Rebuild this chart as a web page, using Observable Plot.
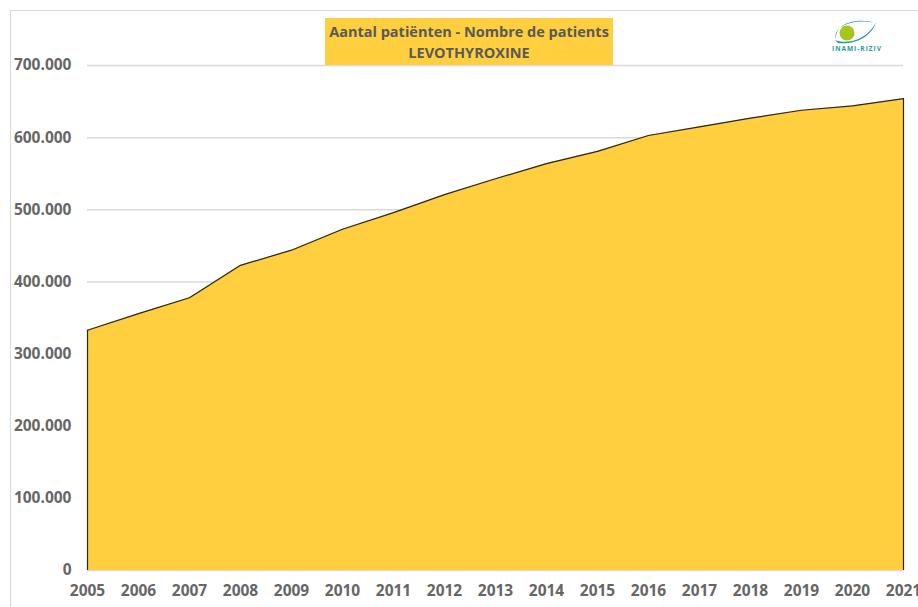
<!DOCTYPE html>
<html>
<head>
<meta charset="utf-8">
<script src="https://cdn.jsdelivr.net/npm/d3@7"></script>
<script src="https://cdn.jsdelivr.net/npm/@observablehq/plot@0.6"></script>
<style>
  html, body { margin: 0; padding: 0; background: #fff; }
  #wrap { position: relative; width: 918px; height: 607px; overflow: hidden; font-family: "Open Sans", sans-serif; }
  #frame { position: absolute; left: 10px; top: 10px; width: 920px; height: 620px; border: 1px solid #d9d9d9; box-sizing: border-box; }
  #title { position: absolute; left: 325px; top: 18px; width: 288px; height: 47px; background: #FFCF3F;
           color: #595959; font-weight: bold; font-size: 14.5px; line-height: 21px; text-align: center; padding-top: 3px; box-sizing: border-box; z-index: 2; }
  #logo { position: absolute; left: 826px; top: 18px; z-index: 2; }
  #chart { position: absolute; left: 0; top: 0; }
</style>
</head>
<body>
<div id="wrap">
  <div id="frame"></div>
  <div id="chart"></div>
  <div id="title">Aantal patiënten - Nombre de patients<br>LEVOTHYROXINE</div>
  <svg id="logo" width="62" height="36" viewBox="0 0 62 36">
    <path d="M10 21 C 6 8, 30 0, 48 5 C 40 1, 20 2, 13 11 C 10 15, 10 18, 10 21 Z" fill="#2a9aa0"/>
    <path d="M9 22 C 20 27, 42 22, 50 4 C 46 18, 30 27, 12 25 Z" fill="#2a9aa0"/>
    <circle cx="21" cy="15" r="7.5" fill="#a8c51c"/>
    <text x="31" y="33" text-anchor="middle" font-size="6.5" font-weight="bold" fill="#2a9aa0" letter-spacing="1">INAMI-RIZIV</text>
  </svg>
</div>
<script>
const years = [2005,2006,2007,2008,2009,2010,2011,2012,2013,2014,2015,2016,2017,2018,2019,2020,2021];
const patients = [333000,356000,378000,423000,444000,473000,496000,521000,543000,564000,581000,603000,615000,627000,638000,644000,654000];
const yTicks = [0,100000,200000,300000,400000,500000,600000,700000];

const data = years.map((y, i) => ({year: y, value: patients[i]}));
const ends = [data[0], data[data.length - 1]];
const fmt = d => d3.format(",")(d).replace(/,/g, ".");

const chart = Plot.plot({
  width: 918,
  height: 607,
  marginLeft: 87,
  marginRight: 15,
  marginTop: 65,
  marginBottom: 37,
  style: {fontFamily: "'Open Sans', sans-serif", fontSize: "15.5px", fontWeight: "bold", color: "#595959", background: "transparent", overflow: "visible"},
  x: {type: "linear", domain: [2005, 2021], ticks: years, tickFormat: d => String(d), label: null},
  y: {domain: [0, 700000], ticks: yTicks, tickFormat: fmt, label: null},
  marks: [
    Plot.gridY(yTicks, {stroke: "#d9d9d9", strokeOpacity: 1, strokeWidth: 1.5}),
    Plot.areaY(data, {x: "year", y: "value", fill: "#FFCF3F"}),
    Plot.lineY(data, {x: "year", y: "value", stroke: "#262626", strokeWidth: 1.2}),
    Plot.ruleX(ends, {x: "year", y1: 0, y2: "value", stroke: "#262626", strokeWidth: 1.2}),
    Plot.axisY({ticks: yTicks, tickFormat: fmt, tickSize: 0, tickPadding: 16, fill: "#666666"}),
    Plot.axisX({ticks: years, tickFormat: d => String(d), tickSize: 0, tickPadding: 14, fill: "#666666"})
  ]
});
document.getElementById("chart").appendChild(chart);
</script>
</body>
</html>
